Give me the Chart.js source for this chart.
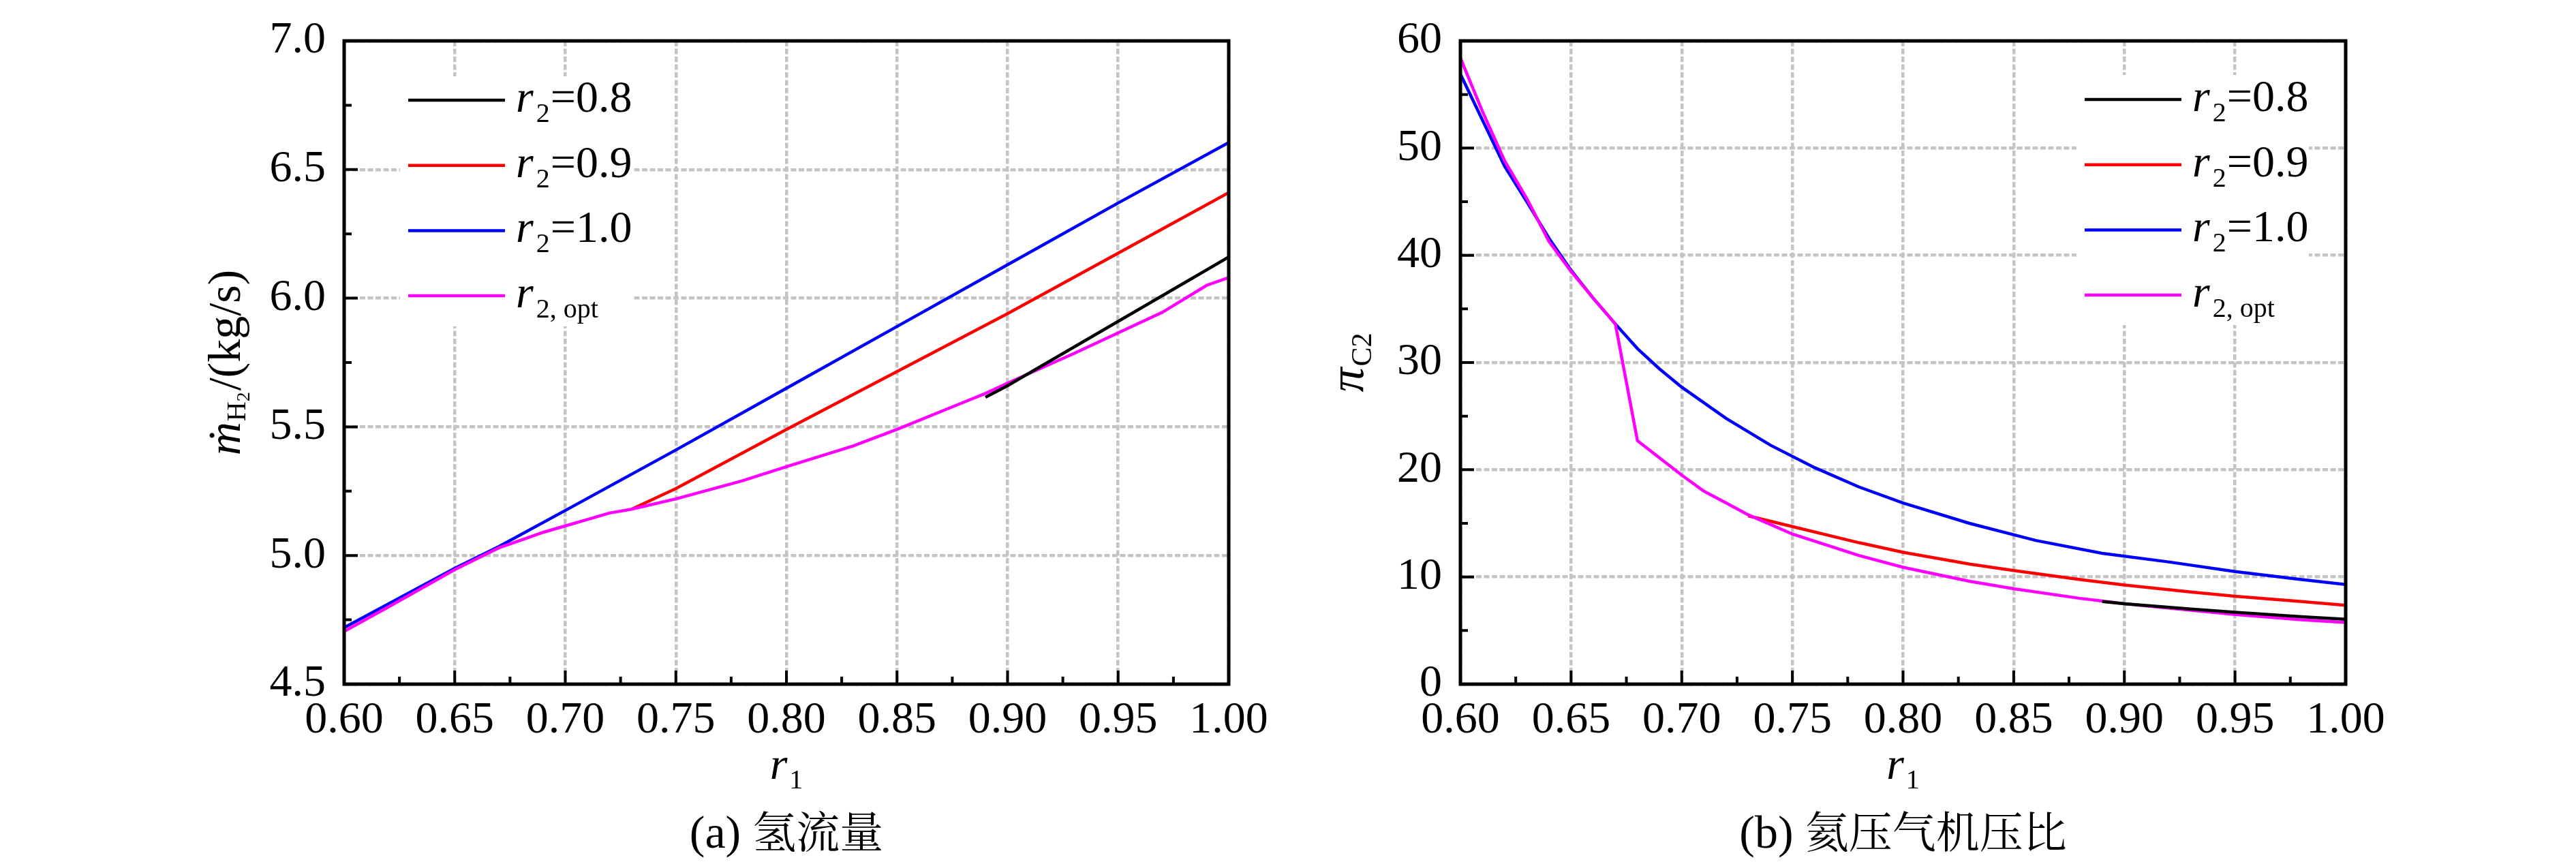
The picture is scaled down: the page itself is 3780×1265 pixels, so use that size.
<!DOCTYPE html>
<html><head><meta charset="utf-8">
<script src="https://cdn.jsdelivr.net/npm/chart.js@4.4.1/dist/chart.umd.min.js"></script>
<style>
html,body{margin:0;padding:0;background:#fff;}
#wrap{position:relative;width:3780px;height:1265px;overflow:hidden;background:#fff;}
canvas{position:absolute;top:0;}
</style>
</head><body>
<div id="wrap">
<canvas id="cA" width="1890" height="1265" style="left:0px"></canvas>
<canvas id="cB" width="1890" height="1265" style="left:1890px"></canvas>
</div>
<script>
// ---------- tick labels ----------
const r1Ticks = [0.60, 0.65, 0.70, 0.75, 0.80, 0.85, 0.90, 0.95, 1.00];
const mTicks  = [4.5, 5.0, 5.5, 6.0, 6.5, 7.0];
const piTicks = [0, 10, 20, 30, 40, 50, 60];

// ---------- series ----------
const seriesLabels = ['r2=0.8', 'r2=0.9', 'r2=1.0', 'r2, opt'];
const seriesColors = ['#000000', '#ff0000', '#0000ff', '#ff00ff'];

// (a) hydrogen mass flow
const r1_a08 = [0.89, 0.90, 0.92, 0.94, 0.96, 0.98, 1.00];
const m_a08  = [5.615, 5.66, 5.76, 5.86, 5.96, 6.06, 6.16];
const r1_a09 = [0.73, 0.75, 0.80, 0.85, 0.90, 0.95, 1.00];
const m_a09  = [5.18, 5.26, 5.49, 5.715, 5.94, 6.175, 6.41];
const r1_a10 = [0.60, 0.65, 0.67, 0.70, 0.75, 0.80, 0.85, 0.90, 0.95, 1.00];
const m_a10  = [4.72, 4.95, 5.035, 5.175, 5.41, 5.65, 5.89, 6.13, 6.37, 6.605];
const r1_aOpt = [0.60, 0.62, 0.65, 0.67, 0.68, 0.69, 0.70, 0.71, 0.72, 0.73, 0.75, 0.78, 0.80, 0.83, 0.85, 0.88, 0.89, 0.90, 0.93, 0.95, 0.97, 0.99, 1.00];
const m_aOpt  = [4.705, 4.80, 4.945, 5.03, 5.06, 5.09, 5.115, 5.14, 5.165, 5.18, 5.22, 5.29, 5.345, 5.425, 5.49, 5.595, 5.63, 5.67, 5.785, 5.865, 5.945, 6.05, 6.08];

// (b) compressor pressure ratio
const r1_b08 = [0.89, 0.90, 0.93, 0.95, 0.98, 1.00];
const pi_b08 = [7.7, 7.5, 7.0, 6.7, 6.3, 6.05];
const r1_b09 = [0.73, 0.75, 0.78, 0.80, 0.83, 0.85, 0.88, 0.90, 0.93, 0.95, 0.98, 1.00];
const pi_b09 = [15.7, 14.7, 13.2, 12.3, 11.2, 10.6, 9.75, 9.25, 8.6, 8.2, 7.7, 7.35];
const r1_b10 = [0.60, 0.61, 0.62, 0.63, 0.64, 0.65, 0.66, 0.67, 0.68, 0.69, 0.70, 0.72, 0.74, 0.76, 0.78, 0.80, 0.83, 0.86, 0.89, 0.92, 0.95, 0.98, 1.00];
const pi_b10 = [56.9, 52.6, 48.3, 45.0, 41.6, 38.6, 36.0, 33.6, 31.3, 29.4, 27.7, 24.8, 22.3, 20.2, 18.4, 16.9, 15.0, 13.4, 12.2, 11.4, 10.5, 9.75, 9.3];
const r1_bOpt = [0.60, 0.61, 0.62, 0.63, 0.64, 0.65, 0.66, 0.67, 0.68, 0.69, 0.70, 0.71, 0.72, 0.73, 0.75, 0.78, 0.80, 0.83, 0.85, 0.88, 0.89, 0.90, 0.93, 0.95, 0.98, 1.00];
const pi_bOpt = [58.4, 53.4, 48.8, 45.3, 41.3, 38.5, 36.0, 33.6, 22.7, 21.1, 19.5, 18.0, 16.9, 15.8, 14.0, 12.0, 10.9, 9.6, 8.9, 8.0, 7.75, 7.5, 6.9, 6.5, 6.0, 5.75];

// ---------- helpers ----------
const SERIF = '"Liberation Serif", "Times New Roman", serif';
const CJK = '"Noto Serif CJK SC", "Noto Sans CJK SC", serif';
const zip = (xs, ys) => xs.map((x, i) => ({x: x, y: ys[i]}));

function drawRich(ctx, segs, x, y, align) {
  let w = 0;
  segs.forEach(s => { ctx.font = s.f; s.w = ctx.measureText(s.t).width; w += s.w + (s.k || 0); });
  let cx = align === 'center' ? x - w / 2 : x;
  ctx.textAlign = 'left';
  ctx.textBaseline = 'alphabetic';
  segs.forEach(s => { ctx.font = s.f; ctx.fillText(s.t, cx, y + (s.dy || 0)); cx += s.w + (s.k || 0); });
}

function legendSegs(label) {
  const rest = label.slice(1);
  const eq = rest.indexOf('=');
  const sub = eq >= 0 ? rest.slice(0, eq) : rest;
  const tail = eq >= 0 ? rest.slice(eq) : '';
  const segs = [{t: 'r', f: 'italic 66px ' + SERIF, k: 4}, {t: sub, f: '40px ' + SERIF, dy: 15, k: 1}];
  if (tail) segs.push({t: tail, f: '66px ' + SERIF});
  return segs;
}

const decor = {
  id: 'decor',
  beforeDatasetsDraw(chart, args, o) {
    const {ctx, chartArea: a} = chart;
    ctx.save();
    ctx.fillStyle = '#ffffff';
    ctx.fillRect(a.left + o.legend.bx, a.top + o.legend.by, o.legend.bw, o.legend.bh);
    ctx.restore();
  },
  afterDatasetsDraw(chart, args, o) {
    const {ctx, chartArea: a, scales} = chart;
    const x = scales.x, y = scales.y;
    ctx.save();
    ctx.strokeStyle = '#000';
    ctx.lineWidth = 4;
    ctx.beginPath();
    const nx = Math.round((x.max - x.min) / o.xMinor);
    for (let i = 1; i < nx; i++) {
      const px = x.getPixelForValue(x.min + i * o.xMinor);
      const L = i % 2 === 0 ? 20 : 11;
      ctx.moveTo(px, a.bottom); ctx.lineTo(px, a.bottom - L);
    }
    const ny = Math.round((y.max - y.min) / o.yMinor);
    for (let i = 1; i < ny; i++) {
      const py = y.getPixelForValue(y.min + i * o.yMinor);
      const L = i % 2 === 0 ? 20 : 11;
      ctx.moveTo(a.left, py); ctx.lineTo(a.left + L, py);
    }
    ctx.stroke();
    ctx.lineWidth = 5;
    ctx.strokeRect(a.left, a.top, a.right - a.left, a.bottom - a.top);
    ctx.restore();
  },
  afterDraw(chart, args, o) {
    const {ctx, chartArea: a} = chart;
    ctx.save();
    ctx.fillStyle = '#000';
    const lg = o.legend;
    chart.data.datasets.forEach((ds, i) => {
      const ly = a.top + lg.ly + i * 95.7;
      const lx = a.left + lg.lx;
      ctx.strokeStyle = ds.borderColor;
      ctx.lineWidth = 4.5;
      ctx.beginPath(); ctx.moveTo(lx, ly); ctx.lineTo(lx + 142, ly); ctx.stroke();
      drawRich(ctx, legendSegs(ds.label), lx + 158, ly + 17, 'left');
    });
    const cxm = (a.left + a.right) / 2;
    drawRich(ctx, [{t: 'r', f: 'italic 66px ' + SERIF, k: 3}, {t: '1', f: '40px ' + SERIF, dy: 14}], cxm, 1143, 'center');
    drawRich(ctx, [{t: o.capA, f: '68px ' + SERIF}, {t: o.capB, f: '64px ' + CJK}], cxm, 1244, 'center');
    ctx.save();
    ctx.translate(o.yTitleX, (a.top + a.bottom) / 2);
    ctx.rotate(-Math.PI / 2);
    drawRich(ctx, o.yTitle, 0, 0, 'center');
    ctx.restore();
    ctx.restore();
  }
};

function makeChart(id, cfg) {
  const datasets = cfg.series.map((s, i) => ({
    label: seriesLabels[i],
    data: s,
    borderColor: seriesColors[i],
    backgroundColor: seriesColors[i],
    borderWidth: 4.5,
    pointRadius: 0,
    pointHoverRadius: 0,
    tension: 0,
    fill: false,
    order: [0, 2, 3, 1][i]
  }));
  return new Chart(document.getElementById(id), {
    type: 'line',
    data: {datasets: datasets},
    plugins: [decor],
    options: {
      responsive: false,
      devicePixelRatio: 1,
      animation: false,
      events: [],
      layout: {padding: cfg.padding},
      plugins: {
        legend: {display: false},
        tooltip: {enabled: false},
        title: {display: false},
        decor: cfg.decor
      },
      scales: {
        x: {
          type: 'linear',
          min: r1Ticks[0], max: r1Ticks[r1Ticks.length - 1],
          afterBuildTicks: s => { s.ticks = r1Ticks.map(v => ({value: v})); },
          afterFit: s => { s.height = 261; },
          ticks: {
            maxRotation: 0, autoSkip: false, padding: 21, color: '#000',
            font: {family: SERIF, size: 66, lineHeight: 1},
            callback: v => Number(v).toFixed(2)
          },
          grid: {color: '#c4c4c4', lineWidth: 4.5, drawTicks: false},
          border: {display: false, dash: [8, 3.5]}
        },
        y: {
          type: 'linear',
          min: cfg.yTicks[0], max: cfg.yTicks[cfg.yTicks.length - 1],
          afterBuildTicks: s => { s.ticks = cfg.yTicks.map(v => ({value: v})); },
          afterFit: s => { s.width = cfg.yWidth; },
          ticks: {
            padding: 27, color: '#000',
            font: {family: SERIF, size: 66, lineHeight: 1},
            callback: v => Number(v).toFixed(cfg.yDec)
          },
          grid: {color: '#c4c4c4', lineWidth: 4.5, drawTicks: false},
          border: {display: false, dash: [8, 3.5]}
        }
      }
    }
  });
}

makeChart('cA', {
  series: [zip(r1_a08, m_a08), zip(r1_a09, m_a09), zip(r1_a10, m_a10), zip(r1_aOpt, m_aOpt)],
  yTicks: mTicks, yDec: 1, yWidth: 505,
  padding: {left: 0, right: 87, top: 38, bottom: 0},
  decor: {
    xMinor: 0.025, yMinor: 0.25,
    legend: {bx: 82, by: 52, bw: 341, bh: 367, lx: 94, ly: 87},
    capA: '(a) ', capB: '氢流量',
    yTitleX: 352,
    yTitle: [
      {t: 'ṁ', f: 'italic 68px ' + SERIF, k: 1},
      {t: 'H', f: '40px ' + SERIF, dy: 8},
      {t: '2', f: '28px ' + SERIF, dy: 14, k: 2},
      {t: '/(kg/s)', f: '68px ' + SERIF}
    ]
  }
});

makeChart('cB', {
  series: [zip(r1_b08, pi_b08), zip(r1_b09, pi_b09), zip(r1_b10, pi_b10), zip(r1_bOpt, pi_bOpt)],
  yTicks: piTicks, yDec: 0, yWidth: 253,
  padding: {left: 0, right: 338, top: 40, bottom: 0},
  decor: {
    xMinor: 0.025, yMinor: 5,
    legend: {bx: 904, by: 50, bw: 341, bh: 367, lx: 916, ly: 86},
    capA: '(b) ', capB: '氦压气机压比',
    yTitleX: 110,
    yTitle: [
      {t: 'π', f: 'italic 72px ' + SERIF, k: 2},
      {t: 'C2', f: '42px ' + SERIF, dy: 12}
    ]
  }
});
</script>
</body></html>
